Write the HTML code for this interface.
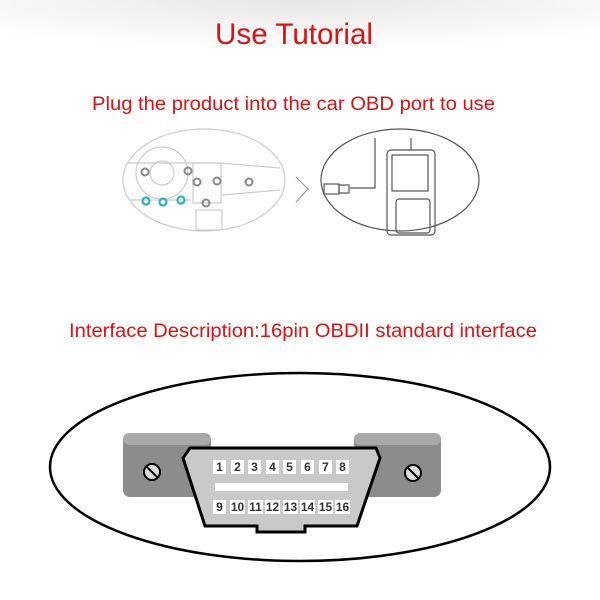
<!DOCTYPE html>
<html><head><style>
html,body{margin:0;padding:0;background:#fff;width:600px;height:600px;overflow:hidden}
svg{display:block}
</style></head><body>
<svg width="600" height="600" viewBox="0 0 600 600" font-family="Liberation Sans, sans-serif">
<defs><radialGradient id="tg" cx="0.5" cy="0" r="0.7"><stop offset="0" stop-color="#e6e6e6"/><stop offset="1" stop-color="#fff"/></radialGradient></defs>
<rect x="0" y="0" width="600" height="70" fill="url(#tg)"/>
<text x="215" y="44" font-size="30" fill="#e01010" textLength="158" lengthAdjust="spacingAndGlyphs">Use Tutorial</text>
<text x="92" y="110" font-size="19" fill="#e01010" textLength="403" lengthAdjust="spacingAndGlyphs">Plug the product into the car OBD port to use</text>
<!-- left illustration -->
<g fill="none" stroke="#ccc" stroke-width="1.2">
<ellipse cx="204" cy="180" rx="81" ry="51"/>
<circle cx="162" cy="173" r="26"/><circle cx="162" cy="173" r="12"/>
<rect x="193" y="163" width="28" height="40"/>
<path d="M128 163 L220 163 L280 168 M130 200 L190 200 M222 195 L280 190"/>
<rect x="196" y="210" width="26" height="20"/>
</g>
<g fill="none" stroke="#888" stroke-width="2">
<circle cx="145" cy="172" r="3.5"/><circle cx="188" cy="171" r="3.5"/><circle cx="197" cy="182" r="3.5"/><circle cx="217" cy="181" r="3.5"/><circle cx="249" cy="182" r="3.5"/><circle cx="206" cy="203" r="3.5"/>
</g>
<g fill="none" stroke="#2bb3b8" stroke-width="2.2">
<circle cx="146" cy="201" r="3.5"/><circle cx="163" cy="202" r="3.5"/><circle cx="181" cy="200" r="3.5"/>
</g>
<path d="M296 177 L308 189 L296 202" fill="none" stroke="#999" stroke-width="1.2"/>
<!-- right illustration -->
<g fill="none" stroke="#555" stroke-width="1.2">
<ellipse cx="400" cy="180" rx="79" ry="51"/>
<rect x="387" y="150" width="48" height="85" rx="4"/>
<rect x="392" y="155" width="36" height="36"/>
<rect x="396" y="199" width="34" height="34" rx="3"/>
<path d="M375 138 L375 188 L350 188"/>
<rect x="324" y="184" width="15" height="10"/>
<rect x="339" y="185" width="10" height="8"/>
<path d="M411 138 L411 150"/>
</g>
<text x="69" y="337" font-size="19" fill="#e01010" textLength="468" lengthAdjust="spacingAndGlyphs">Interface Description:16pin OBDII standard interface</text>
<!-- connector -->
<ellipse cx="300" cy="467" rx="250" ry="94" fill="none" stroke="#000" stroke-width="2.5"/>
<rect x="123" y="433" width="88" height="64" rx="7" fill="#8c8c8c"/>
<rect x="123" y="433" width="88" height="12" rx="6" fill="#a9a9a9"/>
<rect x="354" y="433" width="87" height="64" rx="7" fill="#8c8c8c"/>
<rect x="354" y="433" width="87" height="12" rx="6" fill="#a9a9a9"/>
<g fill="#ddd" stroke="#000" stroke-width="2">
<circle cx="152" cy="472" r="8"/><circle cx="413" cy="473" r="8"/>
</g>
<path d="M146 466 L158 478 M407 467 L419 479" stroke="#000" stroke-width="2"/>
<path d="M190 448 L376 448 L380 458 L357 526 L305 526 L305 532 L257 532 L257 526 L205 526 L183 458 Z" fill="#c9c9c9" stroke="#000" stroke-width="3"/>
<rect x="215" y="483" width="133" height="8" fill="#fff"/>
<g font-size="12" font-weight="bold" fill="#333" text-anchor="middle">
<g fill="#fff">
<rect x="213" y="460" width="13" height="14"/><rect x="231" y="460" width="13" height="14"/><rect x="248" y="460" width="13" height="14"/><rect x="266" y="460" width="13" height="14"/><rect x="283" y="460" width="13" height="14"/><rect x="301" y="460" width="13" height="14"/><rect x="319" y="460" width="13" height="14"/><rect x="336" y="460" width="13" height="14"/>
<rect x="213" y="500" width="13" height="14"/><rect x="230" y="500" width="15" height="14"/><rect x="248" y="500" width="15" height="14"/><rect x="265" y="500" width="15" height="14"/><rect x="283" y="500" width="15" height="14"/><rect x="300" y="500" width="15" height="14"/><rect x="318" y="500" width="15" height="14"/><rect x="335" y="500" width="15" height="14"/>
</g>
<text x="219.5" y="471">1</text><text x="237.5" y="471">2</text><text x="254.5" y="471">3</text><text x="272.5" y="471">4</text><text x="289.5" y="471">5</text><text x="307.5" y="471">6</text><text x="325.5" y="471">7</text><text x="342.5" y="471">8</text>
<text x="219.5" y="511">9</text><text x="237.5" y="511">10</text><text x="255.5" y="511">11</text><text x="272.5" y="511">12</text><text x="290.5" y="511">13</text><text x="307.5" y="511">14</text><text x="325.5" y="511">15</text><text x="342.5" y="511">16</text>
</g>
</svg>
</body></html>
